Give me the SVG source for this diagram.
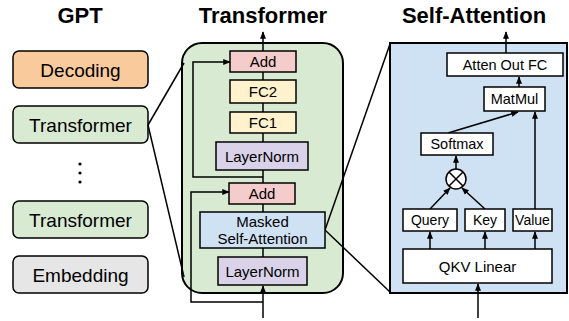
<svg xmlns="http://www.w3.org/2000/svg" width="569" height="321" viewBox="0 0 569 321">
<defs>
<marker id="ah" viewBox="0 0 10 10" refX="9" refY="5" markerWidth="5" markerHeight="5" orient="auto">
<path d="M0,1 L10,5 L0,9 z" fill="#000"/>
</marker>
<style>
.t{font-family:"Liberation Sans",Arial,sans-serif;fill:#000;text-anchor:middle}
.title{font-size:22px;font-weight:bold}
.lbl{font-size:19px}
.mid{font-size:15px}
.sm{font-size:14.5px}
.xs{font-size:14px}
.box{stroke:#000;stroke-width:1.5}
.ln{fill:none;stroke:#000;stroke-width:1.5}
.ar{fill:none;stroke:#000;stroke-width:1.5;marker-end:url(#ah)}
</style>
</defs>
<rect width="569" height="321" fill="#fff"/>
<text class="t title" x="80" y="23">GPT</text>
<text class="t title" x="263" y="23">Transformer</text>
<text class="t title" x="474" y="23">Self-Attention</text>

<g id="gpt-decoding"><rect class="box" x="13" y="51" width="135" height="37" rx="6" fill="#f9cb9c"/><text class="t lbl" x="80.5" y="76.5">Decoding</text></g>
<g id="gpt-transformer1"><rect class="box" x="13" y="106" width="135" height="37" rx="6" fill="#d9ead3"/><text class="t lbl" x="80.5" y="131.5">Transformer</text></g>
<g id="gpt-dots"><circle cx="80" cy="164" r="1.6"/><circle cx="80" cy="173" r="1.6"/><circle cx="80" cy="182" r="1.6"/></g>
<g id="gpt-transformer2"><rect class="box" x="13" y="201" width="135" height="37" rx="6" fill="#d9ead3"/><text class="t lbl" x="80.5" y="226.5">Transformer</text></g>
<g id="gpt-embedding"><rect class="box" x="13" y="256" width="135" height="37" rx="6" fill="#e6e6e6"/><text class="t lbl" x="80.5" y="281.5">Embedding</text></g>

<g id="transformer-block"><rect x="182" y="43" width="161" height="250" rx="20" fill="#d9ead3" stroke="#000" stroke-width="2"/></g>
<g id="self-attention-block"><rect x="390" y="43" width="177" height="250" fill="#cfe2f3" stroke="#000" stroke-width="2"/></g>

<g id="connectors">
<path class="ln" d="M148,125 L184,63"/>
<path class="ln" d="M148,125 L184,277"/>
<path class="ln" d="M325,230 L390,44"/>
<path class="ln" d="M325,230 L390,292"/>
<path class="ar" d="M263,318 L263,286"/>
<path class="ln" d="M263,257 L263,248"/>
<path class="ln" d="M263,212 L263,204"/>
<path class="ln" d="M263,183 L263,170"/>
<path class="ln" d="M263,142 L263,133"/>
<path class="ln" d="M263,112 L263,103"/>
<path class="ln" d="M263,80 L263,72"/>
<path class="ar" d="M263,51 L263,32"/>
<path class="ar" d="M263,302 L191,302 L191,192 L229,192"/>
<path class="ar" d="M263,177 L193,177 L193,62 L230,62"/>
<path class="ar" d="M478,318 L478,284"/>
<path class="ar" d="M430,249 L430,232"/>
<path class="ar" d="M485,249 L485,232"/>
<path class="ar" d="M535,249 L535,232"/>
<path class="ar" d="M430,209 L450,188"/>
<path class="ar" d="M485,209 L462,188"/>
<path class="ar" d="M456,169 L456,156"/>
<path class="ar" d="M448,133 L518,112"/>
<path class="ar" d="M535,209 L535,112"/>
<path class="ar" d="M519,87 L519,77"/>
<path class="ar" d="M506,53 L506,32"/>
</g>

<g id="add-top"><rect class="box" x="230" y="51" width="66" height="21" fill="#f4cccc"/><text class="t mid" x="263" y="67">Add</text></g>
<g id="fc2"><rect class="box" x="230" y="80" width="66" height="23" fill="#fff2cc"/><text class="t mid" x="263" y="97">FC2</text></g>
<g id="fc1"><rect class="box" x="230" y="112" width="66" height="21" fill="#fff2cc"/><text class="t mid" x="263" y="128">FC1</text></g>
<g id="layernorm-top"><rect class="box" x="216" y="142" width="92" height="28" fill="#d9d2e9"/><text class="t mid" x="262" y="161.5">LayerNorm</text></g>
<g id="add-bottom"><rect class="box" x="229" y="183" width="66" height="21" fill="#f4cccc"/><text class="t mid" x="262" y="199">Add</text></g>
<g id="masked-self-attention"><rect class="box" x="200" y="212" width="125" height="36" fill="#cfe2f3"/><text class="t mid" x="262.5" y="227">Masked</text><text class="t mid" x="262.5" y="244">Self-Attention</text></g>
<g id="layernorm-bottom"><rect class="box" x="218" y="257" width="89" height="28" fill="#d9d2e9"/><text class="t mid" x="262.5" y="276.5">LayerNorm</text></g>

<g id="atten-out-fc"><rect class="box" x="447" y="53" width="116" height="23" fill="#fff"/><text class="t sm" x="505" y="69.7">Atten Out FC</text></g>
<g id="matmul"><rect class="box" x="484" y="87" width="61" height="24" fill="#fff"/><text class="t sm" x="514.5" y="104.2">MatMul</text></g>
<g id="softmax"><rect class="box" x="421" y="133" width="72" height="22" fill="#fff"/><text class="t sm" x="457" y="149.2">Softmax</text></g>
<g id="multiply"><circle cx="456" cy="179" r="10" fill="#fff" stroke="#000" stroke-width="1.5"/><path class="ln" d="M449,172 L463,186 M463,172 L449,186"/></g>
<g id="query"><rect class="box" x="403" y="209" width="54" height="22" fill="#fff"/><text class="t xs" x="430" y="225">Query</text></g>
<g id="key"><rect class="box" x="465" y="209" width="40" height="22" fill="#fff"/><text class="t xs" x="485" y="225">Key</text></g>
<g id="value"><rect class="box" x="513" y="209" width="39" height="22" fill="#fff"/><text class="t xs" x="532.5" y="225">Value</text></g>
<g id="qkv-linear"><rect class="box" x="403" y="249" width="149" height="34" fill="#fff"/><text class="t mid" x="477.5" y="271.5">QKV Linear</text></g>
</svg>
